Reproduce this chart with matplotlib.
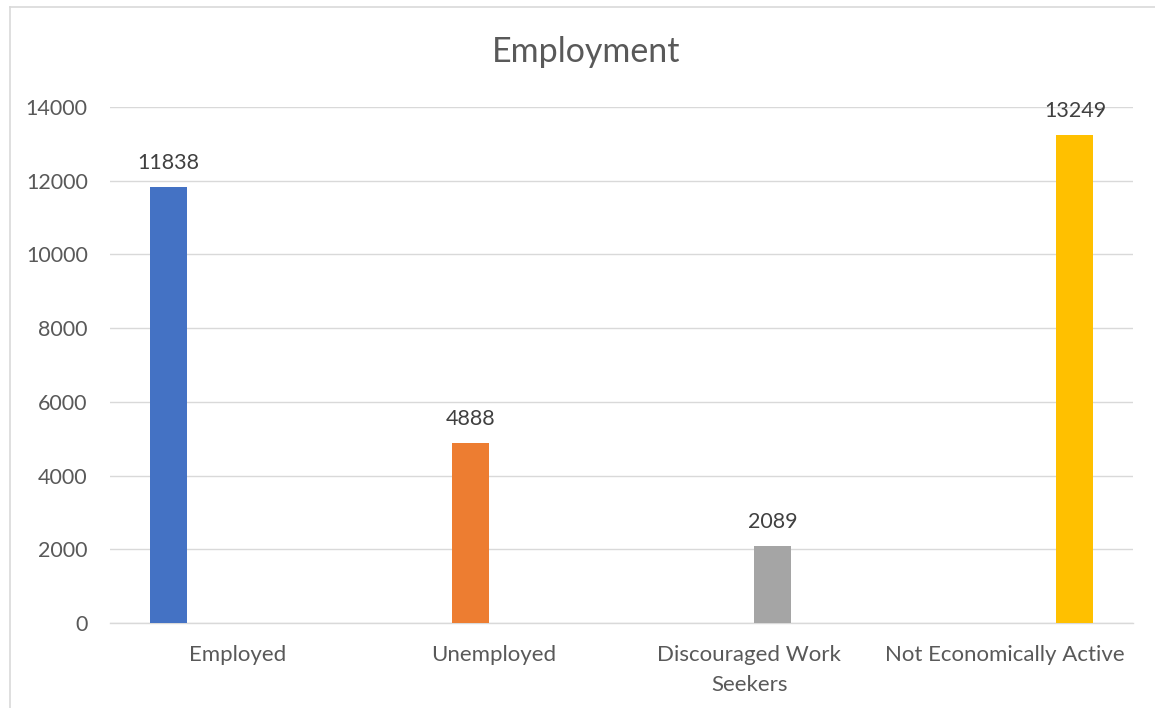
import numpy as np
import matplotlib
matplotlib.use("Agg")
import matplotlib.pyplot as plt
from matplotlib.lines import Line2D

# data
categories = ['Employed', 'Unemployed', 'Discouraged Work\nSeekers', 'Not Economically Active']
values = [11838, 4888, 2089, 13249]
bar_colors = ['#4472C4', '#ED7D31', '#A5A5A5', '#FFC000']
y_ticks = [0, 2000, 4000, 6000, 8000, 10000, 12000, 14000]

TEXT = '#595959'
GRID = '#D9D9D9'

plt.rcParams['font.family'] = ['Lato', 'DejaVu Sans']

W, H = 1155, 708
fig = plt.figure(figsize=(W / 100, H / 100), dpi=100)
ax = fig.add_axes([110 / W, 1 - 623 / H, (1133 - 110) / W, (623 - 107) / H])

# each category only holds one series, so bars sit in their series slot (Excel clustered look)
x = np.arange(len(categories))
slot = 0.182
width = 0.145
for i, (val, col) in enumerate(zip(values, bar_colors)):
    xpos = x[i] + (i - 1.5) * slot
    ax.bar(xpos, val, width=width, color=col, zorder=3)
    ax.annotate(str(val), (xpos, val), xytext=(0, 13), textcoords='offset points',
                ha='center', va='baseline', fontsize=15.5, color='#404040')

ax.set_xlim(-0.5, len(categories) - 0.5)
ax.set_ylim(0, 14000)
ax.set_yticks(y_ticks)
ax.set_yticklabels([str(t) for t in y_ticks], fontsize=15.5, color=TEXT)
ax.set_xticks(x)
ax.set_xticklabels(categories, fontsize=16, color=TEXT, linespacing=1.6)
ax.tick_params(axis='both', length=0)
ax.tick_params(axis='y', pad=16)
ax.tick_params(axis='x', pad=16)

ax.grid(axis='y', color=GRID, linewidth=1.0, zorder=0)
for side in ['left', 'right', 'top']:
    ax.spines[side].set_visible(False)
ax.spines['bottom'].set_color(GRID)
ax.spines['bottom'].set_linewidth(1.0)

fig.text(586 / W, 1 - 62 / H, 'Employment', ha='center', va='baseline',
         fontsize=24.5, color=TEXT)

# chart area border (only left and top visible in the crop)
fig.add_artist(Line2D([10 / W, 10 / W], [0, 1 - 7 / H], color=GRID, lw=1.2))
fig.add_artist(Line2D([10 / W, 1], [1 - 7 / H, 1 - 7 / H], color=GRID, lw=1.2))

fig.savefig('out.png', dpi=100, facecolor='white')
